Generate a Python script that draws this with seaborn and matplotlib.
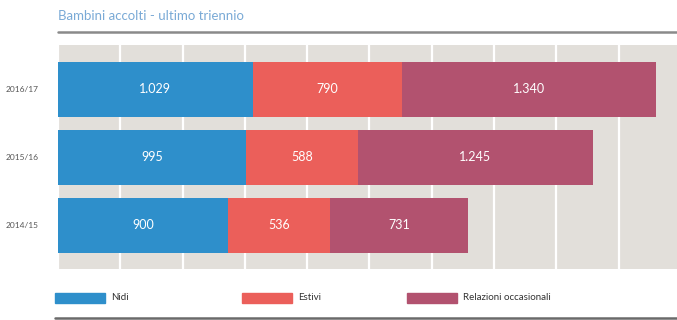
import matplotlib
matplotlib.use("Agg")
import matplotlib.pyplot as plt
import seaborn as sns
import numpy as np
import pandas as pd
from matplotlib.patches import Rectangle
from matplotlib.lines import Line2D

years = ["2016/17", "2015/16", "2014/15"]
nidi = [1029, 995, 900]
estivi = [790, 588, 536]
relazioni = [1340, 1245, 731]
labels_nidi = ["1.029", "995", "900"]
labels_estivi = ["790", "588", "536"]
labels_rel = ["1.340", "1.245", "731"]
series_names = ["Nidi", "Estivi", "Relazioni occasionali"]
colors = ["#2e8fcb", "#eb5f5a", "#b2526f"]

sns.set_theme(style="white")
plt.rcParams['font.family'] = ['Lato', 'DejaVu Sans']

W, H = 677, 320
fig = plt.figure(figsize=(W / 100, H / 100), dpi=100)
ax = fig.add_axes([58 / W, (H - 269) / H, (677 - 58) / W, (269 - 45) / H])
ax.set_facecolor("#e2dfda")

c1 = np.array(nidi)
c2 = c1 + np.array(estivi)
c3 = c2 + np.array(relazioni)
df = pd.DataFrame({"year": years, "c1": c1, "c2": c2, "c3": c3})

ax.set_xlim(0, 3270)
ax.set_xticks(np.arange(0, 3270, 329))
ax.grid(axis="x", color="white", linewidth=1.6)
ax.set_axisbelow(True)

for col, colr in zip(["c3", "c2", "c1"], colors[::-1]):
    sns.barplot(data=df, x=col, y="year", orient="h", color=colr,
                width=0.81, saturation=1, ax=ax, linewidth=0, zorder=3)

starts = [np.zeros(3), c1, c2]
vals = [nidi, estivi, relazioni]
labs = [labels_nidi, labels_estivi, labels_rel]
for s, v, lb in zip(starts, vals, labs):
    for i in range(3):
        ax.text(s[i] + v[i] / 2, i, lb[i], color="white", ha="center",
                va="center", fontsize=9, zorder=5)

ax.set_ylim(2.64, -0.654)
ax.set_xlabel("")
ax.set_ylabel("")
ax.tick_params(axis="x", bottom=False, labelbottom=False)
ax.tick_params(axis="y", left=False, labelsize=6, labelcolor="#555555", pad=8)
for sp in ax.spines.values():
    sp.set_visible(False)

# title and rules
fig.text(58 / W, 1 - 16 / H, "Bambini accolti - ultimo triennio", color="#7aaad6",
         fontsize=9.5, ha="left", va="center")
fig.add_artist(Line2D([58 / W, 1], [1 - 32 / H] * 2, color="#8a8a8a", linewidth=1.8))
fig.add_artist(Line2D([55 / W, 1], [1 - 318 / H] * 2, color="#6a6a6a", linewidth=1.8))

# legend
leg_x = [55, 242, 407]
for x0, name, colr in zip(leg_x, series_names, colors):
    fig.add_artist(Rectangle((x0 / W, 1 - 303 / H), 50 / W, 10 / H, color=colr,
                             transform=fig.transFigure))
    fig.text((x0 + 56) / W, 1 - 298 / H, name, fontsize=7, color="#333333",
             ha="left", va="center")

fig.savefig("out.png", dpi=100)
